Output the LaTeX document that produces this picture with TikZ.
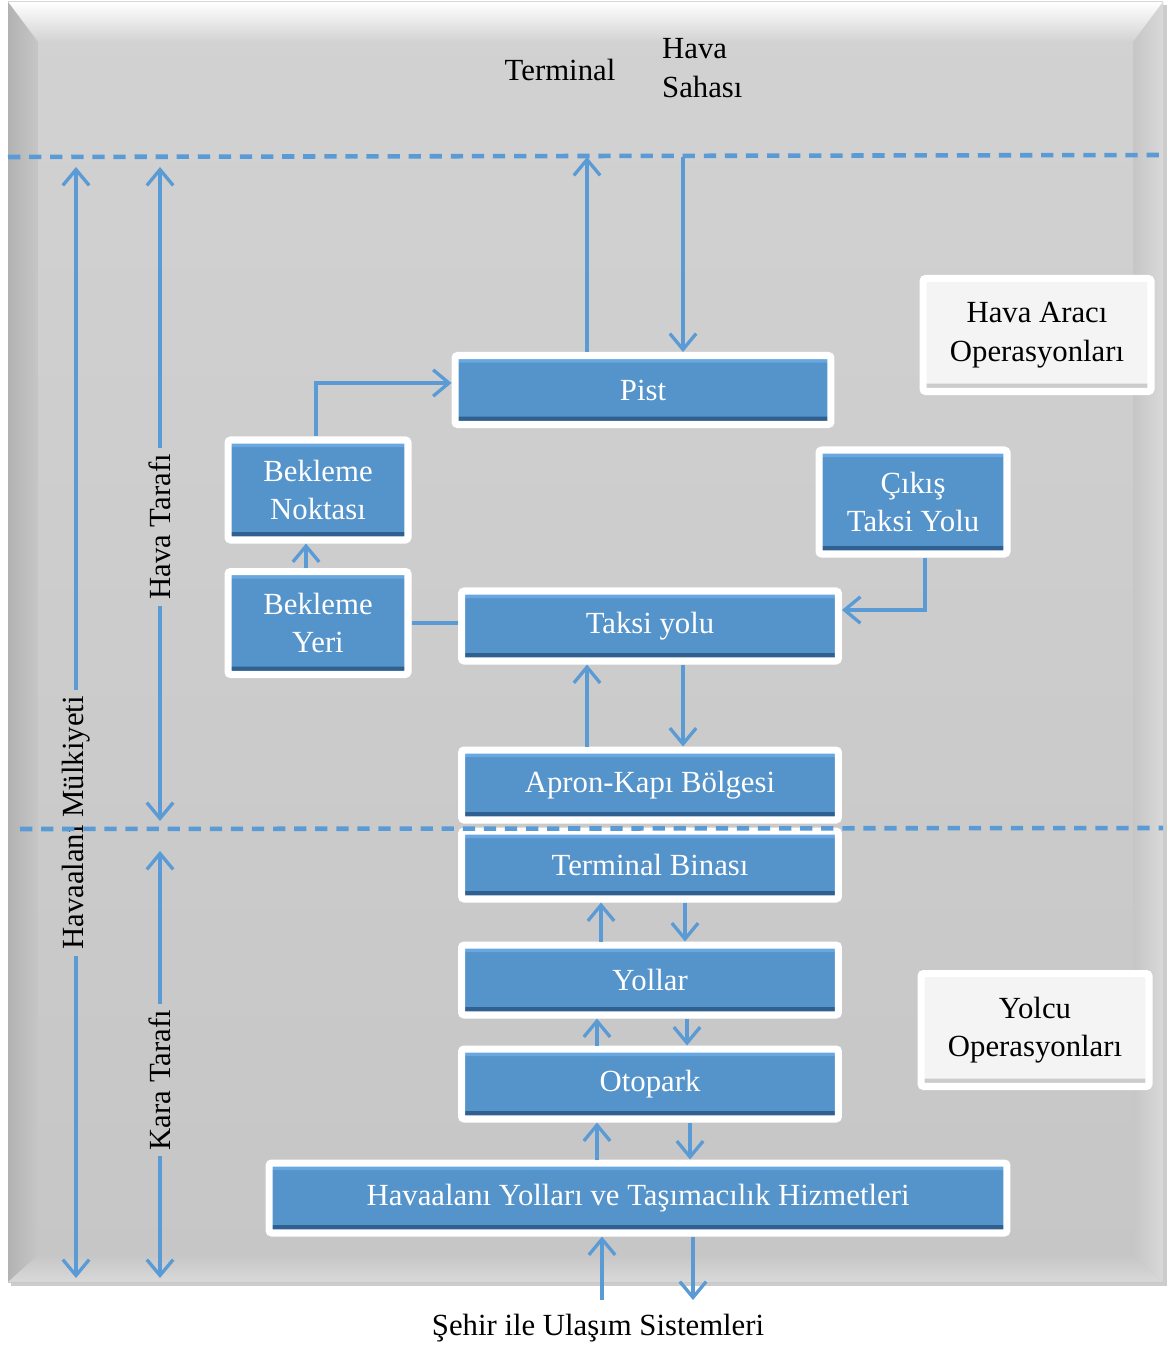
\documentclass[tikz,border=0pt]{standalone}
\usepackage{fontspec}
\setmainfont{Liberation Serif}
\usetikzlibrary{arrows.meta,shadows}
\definecolor{zemin}{HTML}{C6C6C6}
\definecolor{zeminacik}{HTML}{D2D2D2}
\definecolor{kutu}{HTML}{5593CB}
\definecolor{kutuacik}{HTML}{68A7E0}
\definecolor{kutukoyu}{HTML}{30608F}
\definecolor{beyazkutu}{HTML}{F4F4F4}
\definecolor{cizgi}{HTML}{5B9BD5}
\tikzset{
	yazi/.style={font=\fontsize{17.5}{22}\selectfont, align=center},
	blok/.style={yazi, draw=white, line width=4pt, fill=kutu, text=white,
		rounded corners=1.5pt, inner sep=0pt,
		drop shadow={opacity=0.25, shadow xshift=1.5pt, shadow yshift=-1.5pt},
		path picture={
			\fill[kutuacik] (path picture bounding box.north west) rectangle ([yshift=-4pt]path picture bounding box.north east);
			\fill[kutukoyu] (path picture bounding box.south west) rectangle ([yshift=4.5pt]path picture bounding box.south east);
		}},
	acikblok/.style={blok, fill=beyazkutu, text=black,
		path picture={
			\fill[gray!40] (path picture bounding box.south west) rectangle ([yshift=4.5pt]path picture bounding box.south east);
		}},
	ok/.style={draw=cizgi, line width=1.9pt, -{Straight Barb[length=9pt,width=15pt,line width=1.9pt]}},
	yol/.style={draw=cizgi, line width=1.9pt},
	sinir/.style={draw=cizgi, line width=2.6pt, dash pattern=on 7pt off 5pt}
}
\begin{document}
\begin{tikzpicture}[x=0.02cm,y=-0.02cm]
	\useasboundingbox (0,0) rectangle (1168,1351);
	\fill[black!20] (11,5) rectangle (1167,1286);
	\shade[top color=zeminacik, bottom color=zemin] (8,2) rectangle (1163,1282);
	\shade[top color=white, bottom color=zeminacik] (8,2) -- (1163,2) -- (1133,42) -- (38,42) -- cycle;
	\shade[left color=gray!60, right color=zemin] (8,2) -- (38,42) -- (38,1255) -- (8,1282) -- cycle;
	\shade[left color=zemin, right color=gray!30] (1163,2) -- (1133,42) -- (1133,1255) -- (1163,1282) -- cycle;
	\shade[top color=zemin, bottom color=gray!30] (8,1282) -- (38,1255) -- (1133,1255) -- (1163,1282) -- cycle;

	\path 	(0,157) coordinate (ust) (0,167) coordinate (solust)
			(0,829) coordinate (orta) (0,821) coordinate (orta1) (0,851) coordinate (orta2)
			(0,1278) coordinate (dip) (0,1300) coordinate (alt)
			(587,0) coordinate (x1) (683,0) coordinate (x2)
			(601,0) coordinate (x3) (685,0) coordinate (x4)
			(597,0) coordinate (x5) (687,0) coordinate (x6) (690,0) coordinate (x7)
			(602,0) coordinate (x8) (693,0) coordinate (x9)
			(316,0) coordinate (xn) (306,0) coordinate (xy) (925,0) coordinate (xc)
			(0,383) coordinate (yp) (0,610) coordinate (yt);

	\node[yazi] (terminalyazi) at (560,70) {Terminal};
	\node[yazi, align=left, anchor=west] (sahasi) at (656,68) {Hava\\Sahası};

	\node[blok, minimum width=7.52cm, minimum height=1.38cm] (pist) at (643,390) {Pist};
	\node[blok, minimum width=3.6cm, minimum height=2cm] (noktasi) at (318,490) {Bekleme\\Noktası};
	\node[blok, minimum width=3.6cm, minimum height=2.06cm] (yeri) at (318,623) {Bekleme\\Yeri};
	\node[blok, minimum width=7.54cm, minimum height=1.4cm] (taksi) at (650,626) {Taksi yolu};
	\node[blok, minimum width=3.76cm, minimum height=2.08cm] (cikis) at (913,502) {Çıkış\\Taksi Yolu};
	\node[blok, minimum width=7.54cm, minimum height=1.4cm] (apron) at (650,785) {Apron-Kapı Bölgesi};
	\node[blok, minimum width=7.54cm, minimum height=1.36cm] (terminal) at (650,865) {Terminal Binası};
	\node[blok, minimum width=7.54cm, minimum height=1.4cm] (yollar) at (650,980) {Yollar};
	\node[blok, minimum width=7.54cm, minimum height=1.4cm] (otopark) at (650,1084) {Otopark};
	\node[blok, minimum width=14.76cm, minimum height=1.4cm] (ulasim) at (638,1198) {Havaalanı Yolları ve Taşımacılık Hizmetleri};
	\node[acikblok, minimum width=4.56cm, minimum height=2.26cm] (havaop) at (1037,335) {Hava Aracı\\Operasyonları};
	\node[acikblok, minimum width=4.56cm, minimum height=2.26cm] (yolcuop) at (1035,1030) {Yolcu\\Operasyonları};

	\node[yazi] (sehir) at (598,1328) {Şehir ile Ulaşım Sistemleri};

	\draw[ok] (pist.north -| x1) -- (x1 |- ust);
	\draw[ok] (x2 |- ust) -- (pist.north -| x2);
	\draw[ok] (noktasi.north -| xn) |- (pist.west |- yp);
	\draw[ok] (yeri.north -| xy) -- (noktasi.south -| xy);
	\draw[yol] (yeri.east) -- (yeri.east -| taksi.west);
	\draw[ok] (cikis.south -| xc) |- (taksi.east |- yt);
	\draw[ok] (apron.north -| x1) -- (taksi.south -| x1);
	\draw[ok] (taksi.south -| x2) -- (apron.north -| x2);
	\draw[ok] (yollar.north -| x3) -- (terminal.south -| x3);
	\draw[ok] (terminal.south -| x4) -- (yollar.north -| x4);
	\draw[ok] (otopark.north -| x5) -- (yollar.south -| x5);
	\draw[ok] (yollar.south -| x6) -- (otopark.north -| x6);
	\draw[ok] (ulasim.north -| x5) -- (otopark.south -| x5);
	\draw[ok] (otopark.south -| x7) -- (ulasim.north -| x7);
	\draw[ok] (x8 |- alt) -- (ulasim.south -| x8);
	\draw[ok] (ulasim.south -| x9) -- (x9 |- alt);

	\node[yazi, rotate=90] (mulk) at (76,823) {Havaalanı Mülkiyeti};
	\node[yazi, rotate=90] (havataraf) at (160,527) {Hava Tarafı};
	\node[yazi, rotate=90] (karataraf) at (160,1080) {Kara Tarafı};
	\draw[ok] (mulk.east) -- (mulk.east |- solust);
	\draw[ok] (mulk.west) -- (mulk.west |- dip);
	\draw[ok] (havataraf.east) -- (havataraf.east |- solust);
	\draw[ok] (havataraf.west) -- (havataraf.west |- orta1);
	\draw[ok] (karataraf.east) -- (karataraf.east |- orta2);
	\draw[ok] (karataraf.west) -- (karataraf.west |- dip);

	\draw[sinir] (8,157) -- (1163,155);
	\draw[sinir] (20,829) -- (1163,828);
\end{tikzpicture}
\end{document}
